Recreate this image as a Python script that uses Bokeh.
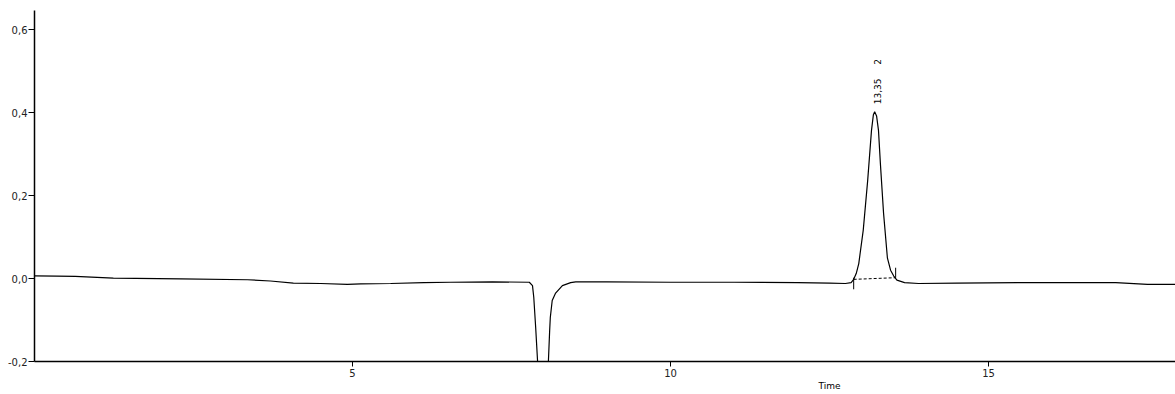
import math
from bokeh.plotting import figure
from bokeh.models import FixedTicker, CustomJSTickFormatter, Range1d, LinearAxis
from bokeh.core.properties import value
from bokeh.embed import file_html
from bokeh.resources import INLINE

# ---- data ----
time = [0.00, 0.35, 0.64, 1.24, 2.30, 3.35, 3.71, 4.07, 4.50, 4.92, 5.13, 5.60, 6.12, 6.54, 7.20,
        7.78, 7.83, 7.85, 7.88, 7.91, 7.92, 8.07, 8.08, 8.10, 8.11, 8.14, 8.19, 8.30, 8.43, 8.51,
        9.00, 10.00, 11.00, 12.00, 12.50, 12.75, 12.84,
        12.88, 12.92, 12.96, 13.03, 13.10, 13.16, 13.19, 13.21, 13.24, 13.27, 13.30, 13.35, 13.41,
        13.46, 13.51, 13.56, 13.68, 13.90, 14.50, 15.50, 16.50, 17.00, 17.50, 17.94]
signal = [0.0065, 0.006, 0.005, 0.001, -0.001, -0.003, -0.006, -0.011, -0.012, -0.014, -0.013, -0.012,
          -0.010, -0.009, -0.008,
          -0.009, -0.017, -0.045, -0.118, -0.200, -0.300, -0.300, -0.200, -0.125, -0.094, -0.053,
          -0.036, -0.017, -0.010, -0.008,
          -0.008, -0.009, -0.009, -0.010, -0.011, -0.012, -0.010,
          -0.002, 0.012, 0.036, 0.116, 0.236, 0.357, 0.395, 0.402, 0.392, 0.357, 0.277, 0.157, 0.050,
          0.020, 0.006, -0.004, -0.010, -0.012, -0.011, -0.010, -0.010, -0.010, -0.014, -0.014]

peak_start = [12.88, -0.002]
peak_end = [13.54, 0.002]
peak_label_time = [13.25, 13.25]
peak_label_y = [0.42, 0.515]
peak_labels = ["13,35", "2"]

x_ticks = [5, 10, 15]
y_ticks = [-0.2, 0.0, 0.2, 0.4, 0.6]
x_title = "Time"
x_title_pos = [12.5]

# ---- figure ----
p = figure(width=1175, height=394, output_backend="svg", toolbar_location=None,
           x_range=Range1d(0, 17.94), y_range=Range1d(-0.2, 0.646),
           min_border_left=34, min_border_right=0, min_border_top=10, min_border_bottom=33)
p.background_fill_color = "white"
p.border_fill_color = "white"
p.outline_line_color = None
p.grid.visible = False

p.line(time, signal, line_color="black", line_width=1.2)

# peak baseline (dashed) and start/end markers
p.line([peak_start[0], peak_end[0]], [peak_start[1], peak_end[1]], line_color="black",
       line_width=1, line_dash="3 2")
p.segment(x0=[peak_start[0], peak_end[0]], y0=[peak_start[1] + 0.004, peak_end[1]],
          x1=[peak_start[0], peak_end[0]], y1=[peak_start[1] - 0.024, peak_end[1] + 0.024],
          line_color="black", line_width=1)

p.text(x=peak_label_time, y=peak_label_y, text=peak_labels, angle=math.pi / 2,
       text_align="left", text_baseline="middle", text_font=value("DejaVu Sans"),
       text_font_size="9px", text_color="black")

for ax in (p.xaxis[0], p.yaxis[0]):
    ax.axis_line_color = "black"
    ax.axis_line_width = 1.5
    ax.major_tick_line_color = "black"
    ax.minor_tick_line_color = None
    ax.major_tick_in = 0
    ax.major_label_text_font = "DejaVu Sans"
    ax.major_label_text_font_size = "10px"
    ax.major_label_text_color = "#222222"

p.xaxis.ticker = FixedTicker(ticks=x_ticks)
p.xaxis.major_tick_out = 5
p.xaxis.major_label_standoff = 2
p.yaxis.ticker = FixedTicker(ticks=y_ticks)
p.yaxis.major_tick_out = 6
p.yaxis.major_label_standoff = 1
p.yaxis.formatter = CustomJSTickFormatter(code="return tick.toFixed(1).replace('.', ',');")

# axis title "Time" placed off-centre, as in the reference
title_axis = LinearAxis(ticker=FixedTicker(ticks=x_title_pos),
                        formatter=CustomJSTickFormatter(args=dict(t=x_title), code="return t;"))
title_axis.axis_line_color = None
title_axis.major_tick_line_color = None
title_axis.minor_tick_line_color = None
title_axis.major_tick_in = 0
title_axis.major_tick_out = 0
title_axis.major_label_standoff = 1
title_axis.major_label_text_font = "DejaVu Sans"
title_axis.major_label_text_font_size = "9px"
title_axis.major_label_text_color = "black"
p.add_layout(title_axis, "below")

open("out.html", "w").write(file_html(p, INLINE))
